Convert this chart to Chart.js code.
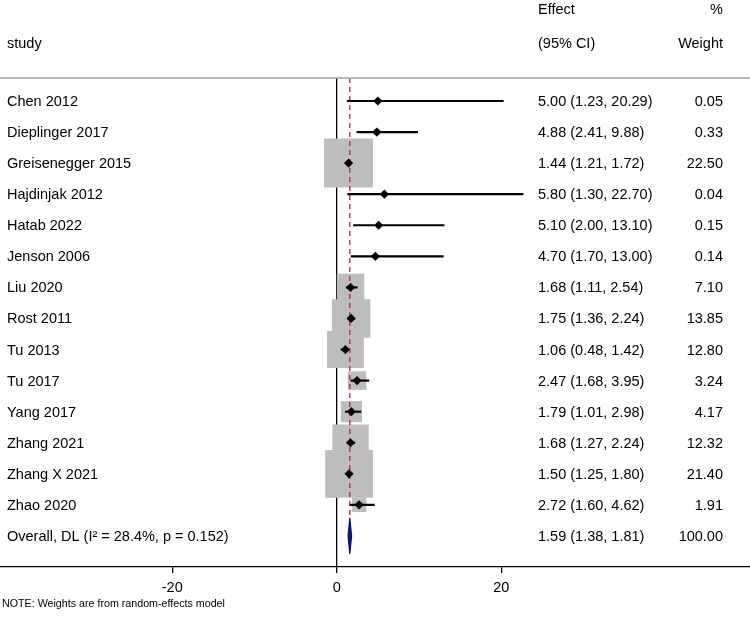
<!DOCTYPE html>
<html>
<head>
<meta charset="utf-8">
<script src="https://cdn.jsdelivr.net/npm/chart.js@4.4.1/dist/chart.umd.min.js"></script>
<style>
  html, body { margin: 0; padding: 0; background: #fff; }
</style>
</head>
<body>
<canvas id="forest" width="750" height="621"></canvas>
<script>
const studies = ['Chen 2012', 'Dieplinger 2017', 'Greisenegger 2015', 'Hajdinjak 2012', 'Hatab 2022',
  'Jenson 2006', 'Liu 2020', 'Rost 2011', 'Tu 2013', 'Tu 2017', 'Yang 2017', 'Zhang 2021',
  'Zhang X 2021', 'Zhao 2020'];
const effect = [5.00, 4.88, 1.44, 5.80, 5.10, 4.70, 1.68, 1.75, 1.06, 2.47, 1.79, 1.68, 1.50, 2.72];
const lower  = [1.23, 2.41, 1.21, 1.30, 2.00, 1.70, 1.11, 1.36, 0.48, 1.68, 1.01, 1.27, 1.25, 1.60];
const upper  = [20.29, 9.88, 1.72, 22.70, 13.10, 13.00, 2.54, 2.24, 1.42, 3.95, 2.98, 2.24, 1.80, 4.62];
const weight = [0.05, 0.33, 22.50, 0.04, 0.15, 0.14, 7.10, 13.85, 12.80, 3.24, 4.17, 12.32, 21.40, 1.91];

const overallLabel = 'Overall, DL (I\u00B2 = 28.4%, p = 0.152)';
const overallEst = 1.59;
const overallLo = 1.38;
const overallHi = 1.81;
const overallWeight = 100.00;

const xTicks = [-20, 0, 20];

const FONT = '"Liberation Sans", Arial, Helvetica, sans-serif';
const fmt = v => v.toFixed(2);

const rows = studies.map((s, i) => i + 1);
const overallRow = studies.length + 1;

// box side grows with sqrt of weight (area ~ weight), biggest box ~49px
const maxW = Math.max(...weight);
const boxRadius = weight.map(w => 49 * Math.sqrt(w / maxW) / Math.SQRT2);

const ciSets = studies.map((s, i) => ({
  type: 'line',
  data: [{ x: lower[i], y: rows[i] }, { x: upper[i], y: rows[i] }],
  borderColor: '#000',
  borderWidth: 2.2,
  pointRadius: 0,
  order: 1
}));

const datasets = [
  {
    type: 'scatter',
    data: studies.map((s, i) => ({ x: effect[i], y: rows[i] })),
    pointStyle: 'rectRot',
    pointRadius: 4.6,
    pointBackgroundColor: '#000',
    pointBorderWidth: 0,
    order: 0
  },
  ...ciSets,
  {
    type: 'line',
    data: [
      { x: overallLo, y: overallRow },
      { x: overallEst, y: overallRow - 0.58 },
      { x: overallHi, y: overallRow },
      { x: overallEst, y: overallRow + 0.58 },
      { x: overallLo, y: overallRow }
    ],
    borderColor: '#101080',
    backgroundColor: '#101080',
    borderWidth: 1.2,
    fill: 'shape',
    pointRadius: 0,
    order: 1
  },
  {
    type: 'line',
    data: [{ x: overallEst, y: 0.26 }, { x: overallEst, y: overallRow - 0.58 }],
    borderColor: '#c03048',
    borderWidth: 1.4,
    borderDash: [5, 4],
    pointRadius: 0,
    order: 2
  },
  {
    type: 'scatter',
    data: studies.map((s, i) => ({ x: effect[i], y: rows[i] })),
    pointStyle: 'rect',
    pointRadius: boxRadius,
    pointBackgroundColor: '#bdbdbd',
    pointBorderWidth: 0,
    order: 3
  }
];

const forestText = {
  id: 'forestText',
  afterDraw(chart) {
    const { ctx, chartArea, scales: { y } } = chart;
    ctx.save();
    // rule under the header
    ctx.strokeStyle = '#a0a0a0';
    ctx.lineWidth = 1.4;
    ctx.beginPath();
    ctx.moveTo(0, chartArea.top);
    ctx.lineTo(chart.width, chartArea.top);
    ctx.stroke();

    ctx.fillStyle = '#000';
    ctx.textBaseline = 'middle';
    ctx.font = '14.5px ' + FONT;

    ctx.textAlign = 'left';
    ctx.fillText('study', 7, 44);
    ctx.fillText('Effect', 538, 10);
    ctx.fillText('(95% CI)', 538, 44);
    ctx.textAlign = 'right';
    ctx.fillText('%', 723, 10);
    ctx.fillText('Weight', 723, 44);

    studies.forEach((s, i) => {
      const py = y.getPixelForValue(rows[i]) + 1;
      ctx.textAlign = 'left';
      ctx.fillText(s, 7, py);
      ctx.fillText(fmt(effect[i]) + ' (' + fmt(lower[i]) + ', ' + fmt(upper[i]) + ')', 538, py);
      ctx.textAlign = 'right';
      ctx.fillText(fmt(weight[i]), 723, py);
    });

    const oy = y.getPixelForValue(overallRow) + 1;
    ctx.textAlign = 'left';
    ctx.fillText(overallLabel, 7, oy);
    ctx.fillText(fmt(overallEst) + ' (' + fmt(overallLo) + ', ' + fmt(overallHi) + ')', 538, oy);
    ctx.textAlign = 'right';
    ctx.fillText(fmt(overallWeight), 723, oy);

    ctx.textAlign = 'left';
    ctx.font = '10.7px ' + FONT;
    ctx.fillText('NOTE: Weights are from random-effects model', 2, 604);
    ctx.restore();
  }
};

new Chart(document.getElementById('forest'), {
  type: 'scatter',
  data: { datasets },
  options: {
    responsive: false,
    animation: false,
    events: [],
    layout: { autoPadding: false, padding: { top: 78, left: 0, right: 0, bottom: 0 } },
    plugins: { legend: { display: false }, tooltip: { enabled: false } },
    scales: {
      x: {
        type: 'linear',
        min: -40.94,
        max: 50.25,
        afterBuildTicks: s => { s.ticks = xTicks.map(v => ({ value: v })); },
        afterFit: s => {
          s.height = 54;
          s.paddingLeft = 0;
          s.paddingRight = 0;
        },
        ticks: {
          color: '#000',
          font: { family: FONT, size: 14.5 },
          padding: 6,
          maxRotation: 0,
          autoSkip: false
        },
        grid: {
          color: c => (c.tick && c.tick.value === 0) ? '#000' : 'rgba(0,0,0,0)',
          lineWidth: 1.3,
          drawTicks: true,
          tickLength: 6,
          tickColor: '#000',
          tickWidth: 1.3
        },
        border: { display: true, color: '#000', width: 1.3 }
      },
      y: {
        type: 'linear',
        min: 0.26,
        max: 16,
        reverse: true,
        display: false
      }
    }
  },
  plugins: [forestText]
});
</script>
</body>
</html>
